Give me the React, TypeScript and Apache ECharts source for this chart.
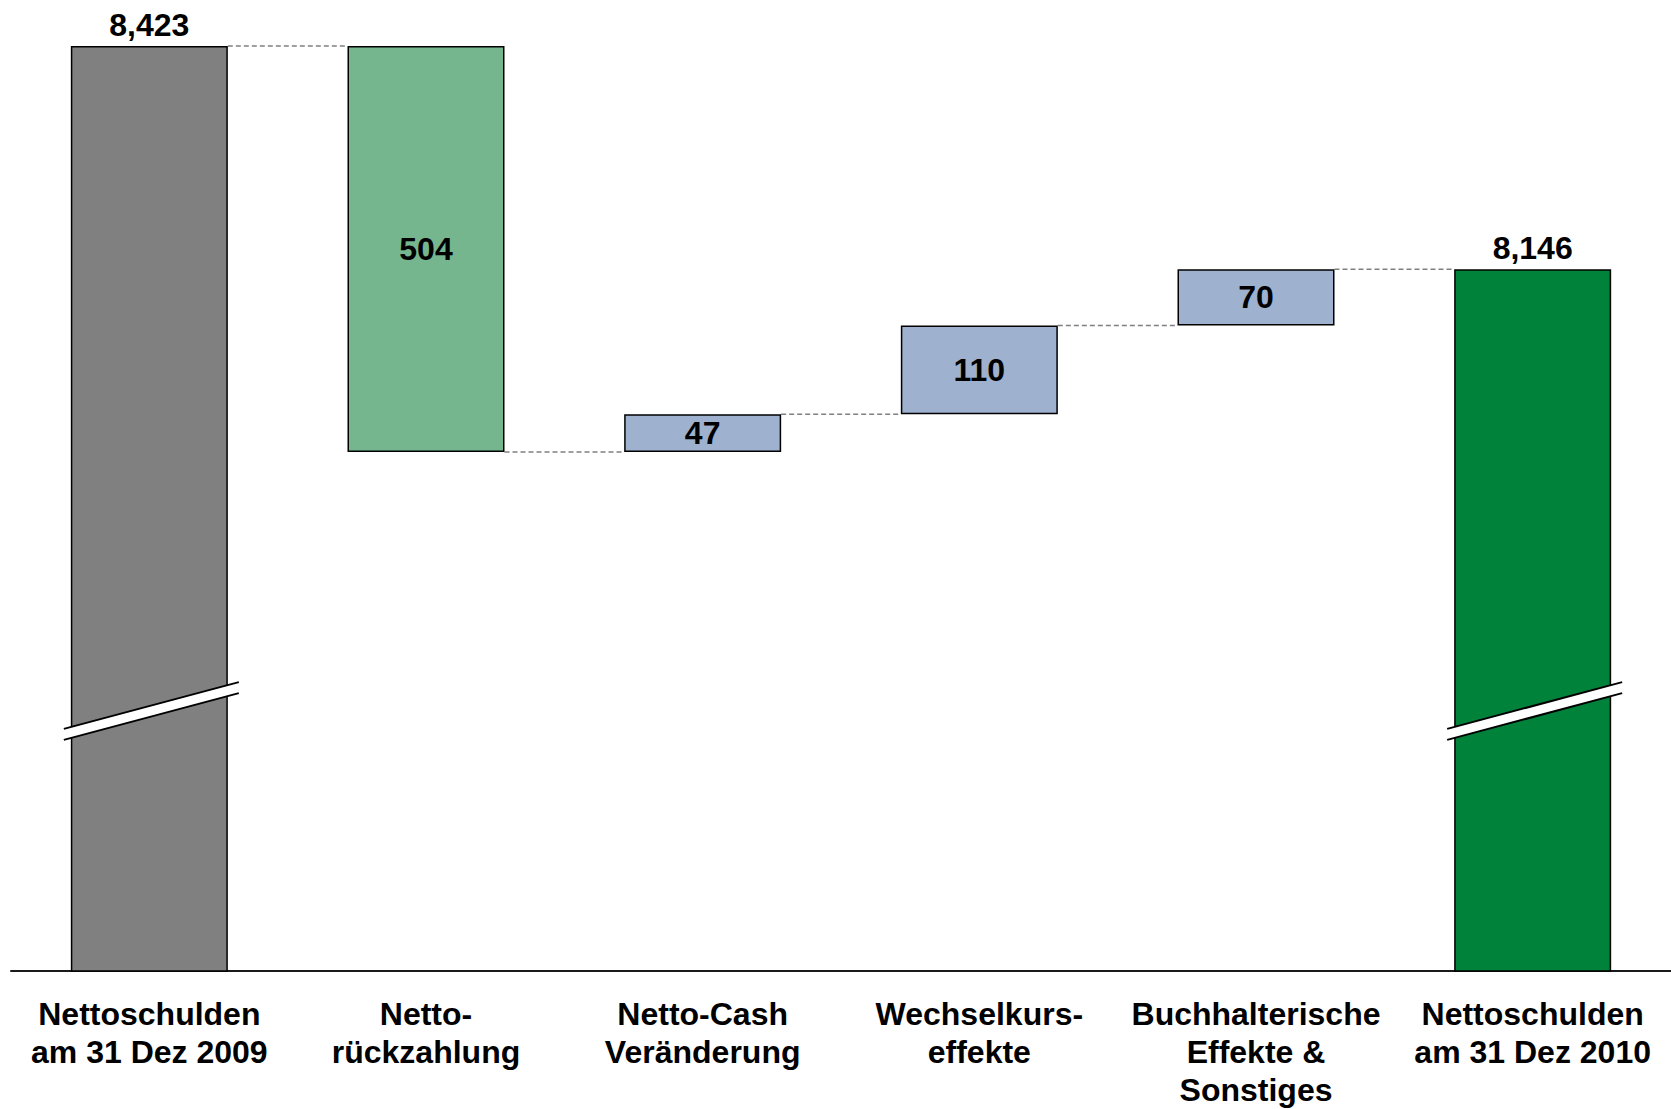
import React, { useEffect, useRef } from "react";
import * as echarts from "echarts";

// Net debt bridge 2009 -> 2010
const categories = [
  "Nettoschulden\nam 31 Dez 2009",
  "Netto-\nrückzahlung",
  "Netto-Cash\nVeränderung",
  "Wechselkurs-\neffekte",
  "Buchhalterische\nEffekte &\nSonstiges",
  "Nettoschulden\nam 31 Dez 2010",
];
const openingDebt = 8423;
const changes = [-504, 47, 110, 70];
const closingDebt = 8146;

// value axis is cut: bars start at this level
const axisMin = 7275;
const axisMax = 8423;
// where the cut marks sit on the two total bars
const breakLevel = 7597;

const barColors = ["#808080", "#75b68f", "#9eb1cf", "#9eb1cf", "#9eb1cf", "#00823b"];
const BAR_WIDTH = 157;
const FONT = "'Liberation Sans', Arial, sans-serif";

const fmt = (v: number) => v.toLocaleString("en-US");

export default function App() {
  const ref = useRef<HTMLDivElement>(null);

  useEffect(() => {
    if (!ref.current) return;
    const chart = echarts.init(ref.current, undefined, { renderer: "svg" });

    // running level after each column
    const levels: number[] = [openingDebt];
    changes.forEach((c) => levels.push(levels[levels.length - 1] + c));

    const baseData: number[] = [0];
    const barData: any[] = [
      {
        value: openingDebt,
        itemStyle: { color: barColors[0] },
        label: { position: "top", formatter: fmt(openingDebt) },
      },
    ];
    changes.forEach((c, i) => {
      const prev = levels[i];
      const next = levels[i + 1];
      baseData.push(Math.min(prev, next));
      barData.push({
        value: Math.abs(c),
        itemStyle: { color: barColors[i + 1] },
        label: { position: "inside", formatter: fmt(Math.abs(c)) },
      });
    });
    baseData.push(0);
    barData.push({
      value: closingDebt,
      itemStyle: { color: barColors[5] },
      label: { position: "top", formatter: fmt(closingDebt) },
    });

    const connectors = levels.map((lv, i) => [i, lv]);
    const breaks = [
      [0, breakLevel],
      [categories.length - 1, breakLevel],
    ];

    chart.setOption({
      animation: false,
      grid: { left: 11, width: 1663, top: 46, bottom: 138, containLabel: false },
      xAxis: {
        type: "category",
        data: categories,
        axisLine: { lineStyle: { color: "#1a1a1a", width: 2 } },
        axisTick: { show: false },
        axisLabel: {
          interval: 0,
          margin: 24,
          color: "#000",
          fontFamily: FONT,
          fontWeight: "bold",
          fontSize: 32,
          lineHeight: 38,
        },
      },
      yAxis: {
        type: "value",
        min: axisMin,
        max: axisMax,
        show: false,
        splitLine: { show: false },
      },
      series: [
        {
          type: "bar",
          stack: "w",
          barWidth: BAR_WIDTH,
          data: baseData,
          itemStyle: { color: "transparent", borderWidth: 0 },
          silent: true,
        },
        {
          type: "bar",
          stack: "w",
          barWidth: BAR_WIDTH,
          data: barData,
          itemStyle: { borderColor: "#000", borderWidth: 1.5 },
          label: {
            show: true,
            color: "#000",
            fontFamily: FONT,
            fontWeight: "bold",
            fontSize: 32,
            distance: 5,
          },
          z: 2,
        },
        {
          type: "custom",
          coordinateSystem: "cartesian2d",
          data: connectors,
          encode: { x: 0, y: 1 },
          clip: false,
          z: 1,
          renderItem: (params: any, api: any) => {
            const i = api.value(0);
            const lv = api.value(1);
            const p1 = api.coord([i, lv]);
            const p2 = api.coord([i + 1, lv]);
            const half = BAR_WIDTH / 2;
            return {
              type: "line",
              shape: { x1: p1[0] + half, y1: p1[1], x2: p2[0] - half, y2: p2[1] },
              style: { stroke: "#808080", lineWidth: 1.5, lineDash: [5, 3] },
            };
          },
        },
        {
          type: "custom",
          coordinateSystem: "cartesian2d",
          data: breaks,
          encode: { x: 0, y: 1 },
          clip: false,
          z: 5,
          renderItem: (params: any, api: any) => {
            const c = api.coord([api.value(0), api.value(1)]);
            const half = BAR_WIDTH / 2;
            const left = c[0] - half - 7;
            const right = c[0] + half + 11;
            const k = 0.267;
            const gap = 5.5;
            const yU = (x: number) => c[1] - gap - k * (x - c[0]);
            const yL = (x: number) => c[1] + gap - k * (x - c[0]);
            const lineStyle = { stroke: "#000", lineWidth: 2 };
            return {
              type: "group",
              children: [
                {
                  type: "polygon",
                  shape: {
                    points: [
                      [left, yU(left)],
                      [right, yU(right)],
                      [right, yL(right)],
                      [left, yL(left)],
                    ],
                  },
                  style: { fill: "#fff", stroke: "none" },
                },
                {
                  type: "line",
                  shape: { x1: left, y1: yU(left), x2: right, y2: yU(right) },
                  style: lineStyle,
                },
                {
                  type: "line",
                  shape: { x1: left, y1: yL(left), x2: right, y2: yL(right) },
                  style: lineStyle,
                },
              ],
            };
          },
        },
      ],
    });

    return () => chart.dispose();
  }, []);

  return (
    <div
      ref={ref}
      style={{ position: "absolute", left: 0, top: 0, width: 1671, height: 1109, background: "#fff" }}
    />
  );
}
